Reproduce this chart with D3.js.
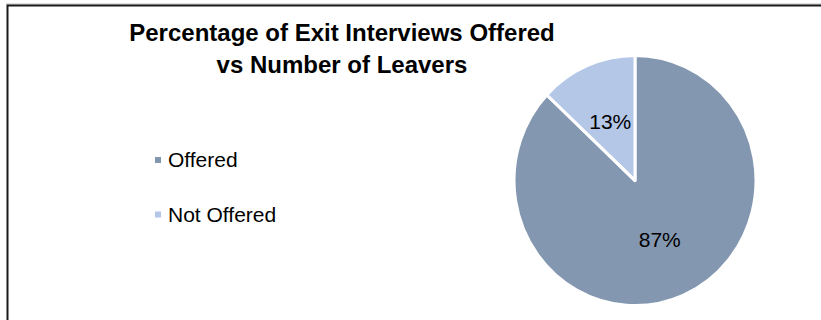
<!DOCTYPE html>
<html>
<head>
<meta charset="utf-8">
<script src="https://cdn.jsdelivr.net/npm/d3@7"></script>
<style>
  body { margin: 0; background: #fff; }
  svg { display: block; font-family: "Liberation Sans", Arial, sans-serif; }
</style>
</head>
<body>
<script>
// pie of exit interviews offered vs not offered
var categories = ["Offered", "Not Offered"];
var values = [87, 13];
var colours = ["#8497B0", "#B4C7E7"];
var titleLines = ["Percentage of Exit Interviews Offered", "vs Number of Leavers"];

var width = 821, height = 320;

var svg = d3.select("body").append("svg")
    .attr("width", width)
    .attr("height", height);

// chart frame, only top and left show
svg.append("line")
    .attr("x1", 6).attr("x2", width).attr("y1", 4).attr("y2", 4)
    .style("stroke", "#bbb").style("stroke-width", 1);
svg.append("path")
    .attr("d", "M7.5," + height + "V5.5H" + width)
    .style("fill", "none")
    .style("stroke", "#1a1a1a")
    .style("stroke-width", 2);

// title
svg.selectAll(".title")
    .data(titleLines)
  .enter().append("text")
    .attr("class", "title")
    .attr("x", 342)
    .attr("y", function(d, i) { return 41 + i * 32; })
    .style("text-anchor", "middle")
    .style("font-weight", "bold")
    .style("font-size", "24px")
    .text(function(d) { return d; });

// legend
var legend = svg.selectAll(".legend")
    .data(categories)
  .enter().append("g")
    .attr("class", "legend")
    .attr("transform", function(d, i) { return "translate(155," + (167 + i * 54.5) + ")"; });

legend.append("rect")
    .attr("x", 0)
    .attr("y", -10)
    .attr("width", 6)
    .attr("height", 6)
    .style("fill", function(d, i) { return colours[i]; });

legend.append("text")
    .attr("x", 13)
    .attr("y", 0)
    .style("font-size", "21px")
    .text(function(d) { return d; });

// pie
var radius = 121;
var pie = d3.pie().sort(null).value(function(d) { return d; });
var arc = d3.arc().innerRadius(0).outerRadius(radius);
var labelArc = d3.arc().innerRadius(0).outerRadius(radius * 1.03);

var g = svg.append("g")
    .attr("transform", "translate(635,180.5) scale(1,1.034)");

g.selectAll(".slice")
    .data(pie(values))
  .enter().append("path")
    .attr("class", "slice")
    .attr("d", arc)
    .style("fill", function(d, i) { return colours[i]; })
    .style("stroke", "#fff")
    .style("stroke-width", 3)
    .style("stroke-linejoin", "round");

svg.selectAll(".pct")
    .data(pie(values))
  .enter().append("text")
    .attr("class", "pct")
    .attr("transform", function(d) {
      var c = labelArc.centroid(d);
      return "translate(" + (635 + c[0]) + "," + (180.5 + c[1] * 1.034) + ")";
    })
    .attr("dy", "0.35em")
    .style("text-anchor", "middle")
    .style("font-size", "21px")
    .text(function(d) { return d.value + "%"; });
</script>
</body>
</html>
